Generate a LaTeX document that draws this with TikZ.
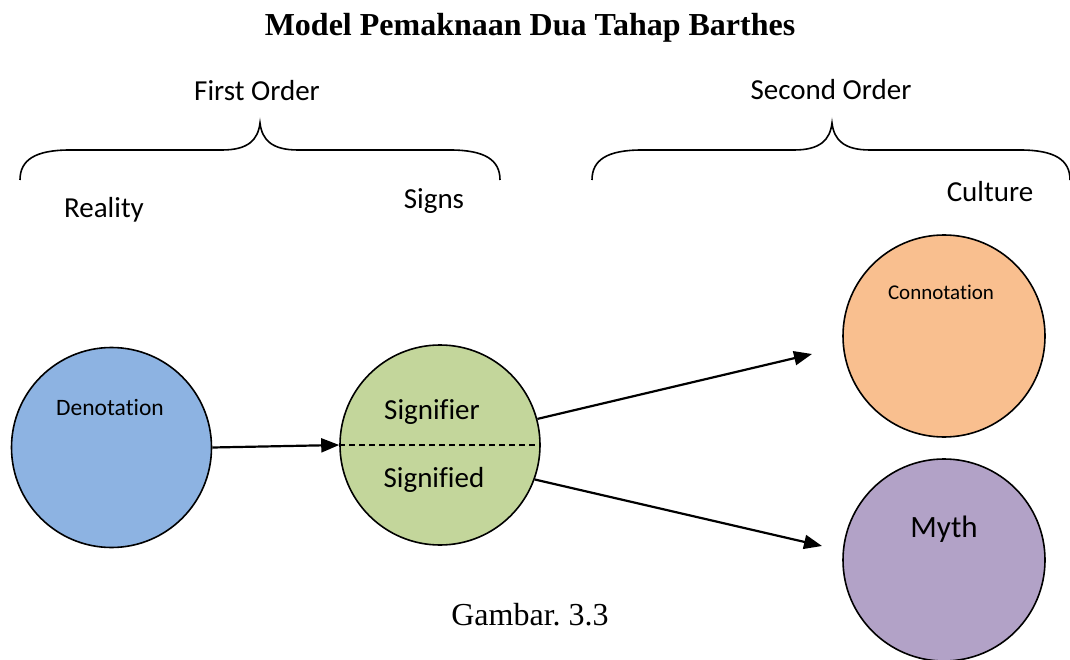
\documentclass[tikz,border=0pt]{standalone}
\usepackage{fontspec}
\setmainfont{Carlito}[Ligatures=NoCommon]
\newfontfamily\timesfont{Liberation Serif}
\usetikzlibrary{arrows.meta}
\frenchspacing
\definecolor{denblue}{RGB}{141,179,226}
\definecolor{siggreen}{RGB}{195,214,155}
\definecolor{conorange}{RGB}{249,191,143}
\definecolor{mythpurple}{RGB}{178,162,199}
\tikzset{
  orb/.style={circle, draw=black, line width=1.6pt, minimum size=200pt, inner sep=0pt},
  lbl/.style={inner sep=0pt, font=\fontsize{29}{34}\selectfont},
  arr/.style={line width=2.2pt, -{Triangle[length=18pt,width=14pt]}},
  brace/.style={line width=1.6pt},
}
\begin{document}
\begin{tikzpicture}[x=1pt, y=-1pt]
\useasboundingbox (0,0) rectangle (1070,660);
\clip (0,0) rectangle (1070,660);

% title and caption
\node[inner sep=0pt, font=\timesfont\bfseries\fontsize{32}{38}\selectfont] (title) at (530,28) {Model Pemaknaan Dua Tahap Barthes};
\node[inner sep=0pt, font=\timesfont\fontsize{32}{38}\selectfont] (caption) at (530,615) {Gambar. 3.3};

% order headings with their braces
\node[lbl] (first) at (257,91) {First Order};
\node[lbl] (second) at (831,90) {Second Order};
\draw[brace] (20,180) .. controls (20,160) and (35,150) .. (70,150) -- (222,150)
  .. controls (248,150) and (258,140) .. (260,123)
  .. controls (262,140) and (272,150) .. (298,150) -- (450,150)
  .. controls (485,150) and (500,160) .. (500,180);
\draw[brace] (592,180) .. controls (592,160) and (607,150) .. (642,150) -- (794,150)
  .. controls (820,150) and (830,140) .. (832,123)
  .. controls (834,140) and (844,150) .. (870,150) -- (1020,150)
  .. controls (1055,150) and (1070,160) .. (1070,180);

\node[lbl] (reality) at (104,210) {Reality};
\node[lbl] (signs) at (434,201) {Signs};
\node[lbl] (culture) at (990,192) {Culture};

% circles
\node[orb, fill=denblue] (den) at (111.5,447.5) {};
\node[orb, fill=siggreen] (sig) at (440,445) {};
\node[orb, fill=conorange, minimum size=202pt] (con) at (944,336) {};
\node[orb, fill=mythpurple, minimum size=202pt] (myth) at (944,560) {};

\draw[dashed, line width=1.4pt, dash pattern=on 6pt off 4pt] (sig.west) -- (sig.east);

\node[inner sep=0pt, font=\fontsize{23.5}{28}\selectfont] (dentext) at (110,407) {Denotation};
\node[lbl] (signifier) at (432,412) {Signifier};
\node[lbl] (signified) at (434,480) {Signified};
\node[inner sep=0pt, font=\fontsize{21}{25}\selectfont] (context) at (941,292) {Connotation};
\node[inner sep=0pt, font=\fontsize{31}{36}\selectfont] (mythtext) at (944,529) {Myth};

% connectors
\coordinate (tipcon) at (812,354);
\coordinate (tipmyth) at (822,546);
\draw[arr] (den.east) -- (sig.west);
\draw[arr] (sig.15) -- (tipcon);
\draw[arr] (sig.-20) -- (tipmyth);
\end{tikzpicture}
\end{document}
